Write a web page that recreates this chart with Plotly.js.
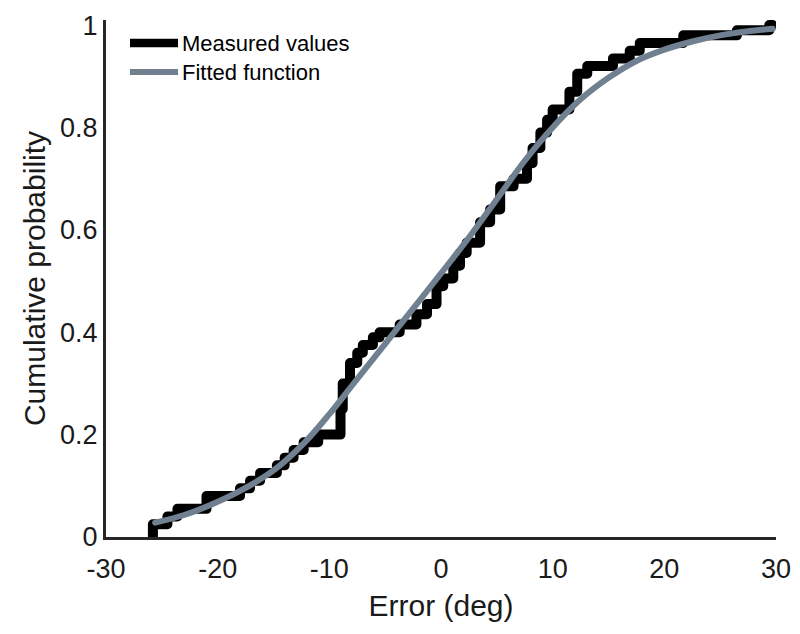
<!DOCTYPE html>
<html>
<head>
<meta charset="utf-8">
<script src="https://cdn.plot.ly/plotly-3.0.1.min.js"></script>
<style>
html,body{margin:0;padding:0;background:#fff;}
#chart{width:800px;height:634px;}
.scatterlayer .js-line{stroke-linejoin:round;stroke-linecap:round;}
</style>
</head>
<body>
<div id="chart"></div>
<script>
// Empirical CDF: jump positions (deg) and cumulative level after each jump
var stepX = [-25.8, -24.5, -23.6, -21.0, -18.0, -17.1, -16.2, -14.7, -14.0, -13.2, -12.3, -11.0,
             -9.0, -8.8, -8.15, -7.5, -7.0, -6.1, -5.5, -3.7, -2.2, -1.25, -0.4, 0.2, 1.1, 1.7,
             2.3, 3.5, 4.4, 5.3, 6.5, 7.7, 8.2, 8.9, 9.5, 10.0, 11.5, 12.2, 13.1, 15.4, 16.9,
             17.8, 21.7, 26.5, 29.4];
var stepP = [0.025, 0.04, 0.055, 0.08, 0.095, 0.11, 0.125, 0.14, 0.155, 0.17, 0.185, 0.2,
             0.25, 0.3, 0.34, 0.36, 0.375, 0.39, 0.40, 0.415, 0.435, 0.455, 0.49, 0.505, 0.53, 0.555,
             0.575, 0.615, 0.64, 0.685, 0.70, 0.73, 0.76, 0.79, 0.815, 0.835, 0.87, 0.905, 0.92, 0.935, 0.95,
             0.965, 0.98, 0.99, 1.0];
var stepEndX = 29.7;

// Fitted function read at sample points
var fitX = [-25.6, -23, -20.7, -18, -15, -12.2, -10, -8, -6, -4, -2, 0, 2.5, 5, 7.5, 10, 12.5, 15, 17.5, 20, 22.5, 25, 27.5, 29.7];
var fitP = [0.028, 0.043, 0.062, 0.09, 0.13, 0.185, 0.24, 0.295, 0.35, 0.405, 0.46, 0.515, 0.585, 0.66, 0.735, 0.80, 0.855, 0.897, 0.93, 0.952, 0.968, 0.98, 0.988, 0.993];

var xTicks = [-30, -20, -10, 0, 10, 20, 30];
var yTicks = [0, 0.2, 0.4, 0.6, 0.8, 1];
var yTickText = ['0', '0.2', '0.4', '0.6', '0.8', '1'];
var legendNames = ['Measured values', 'Fitted function'];
var seriesColors = ['#000000', '#708090'];

var ecdfX = [stepX[0]].concat(stepX, [stepEndX]);
var ecdfY = [0].concat(stepP, [stepP[stepP.length - 1]]);

var FONT = 'Liberation Sans, Arial, Helvetica, sans-serif';

var traces = [
  {x: ecdfX, y: ecdfY, mode: 'lines', name: legendNames[0], line: {shape: 'hv', color: seriesColors[0], width: 10}, showlegend: false, hoverinfo: 'skip'},
  {x: fitX, y: fitP, mode: 'lines', name: legendNames[1], line: {shape: 'spline', smoothing: 1, color: seriesColors[1], width: 6}, showlegend: false, hoverinfo: 'skip'}
];

// Legend drawn in paper coordinates (line samples + labels)
var legY = [0.9555, 0.8994];
var legW = [8.5, 6];
var shapes = [], annotations = [];
for (var i = 0; i < 2; i++) {
  shapes.push({type: 'line', xref: 'paper', yref: 'paper', x0: 0.0358, x1: 0.1075, y0: legY[i], y1: legY[i],
               line: {color: seriesColors[i], width: legW[i]}});
  annotations.push({xref: 'paper', yref: 'paper', x: 0.1104, y: legY[i], xanchor: 'left', yanchor: 'middle',
                    text: legendNames[i], showarrow: false, font: {family: FONT, size: 22, color: '#000'}});
}

var layout = {
  width: 800, height: 634,
  margin: {l: 106, r: 24, t: 20, b: 97},
  paper_bgcolor: '#ffffff', plot_bgcolor: '#ffffff',
  font: {family: FONT, color: '#1a1a1a'},
  showlegend: false,
  shapes: shapes,
  annotations: annotations,
  xaxis: {
    range: [-30, 30], tickvals: xTicks, ticktext: xTicks.map(String),
    showgrid: false, zeroline: false, showline: true, linecolor: '#262626', linewidth: 3,
    ticks: 'outside', ticklen: 6, tickcolor: 'rgba(0,0,0,0)',
    tickfont: {family: FONT, size: 27, color: '#1a1a1a'},
    title: {text: 'Error (deg)', font: {family: FONT, size: 30, color: '#1a1a1a'}, standoff: 12}
  },
  yaxis: {
    range: [0, 1.01], tickvals: yTicks, ticktext: yTickText,
    showgrid: false, zeroline: false, showline: true, linecolor: '#262626', linewidth: 3,
    ticks: '',
    tickfont: {family: FONT, size: 27, color: '#1a1a1a'},
    title: {text: 'Cumulative probability', font: {family: FONT, size: 30, color: '#1a1a1a'}, standoff: 6}
  }
};

Plotly.newPlot('chart', traces, layout, {displayModeBar: false, staticPlot: true});
</script>
</body>
</html>
